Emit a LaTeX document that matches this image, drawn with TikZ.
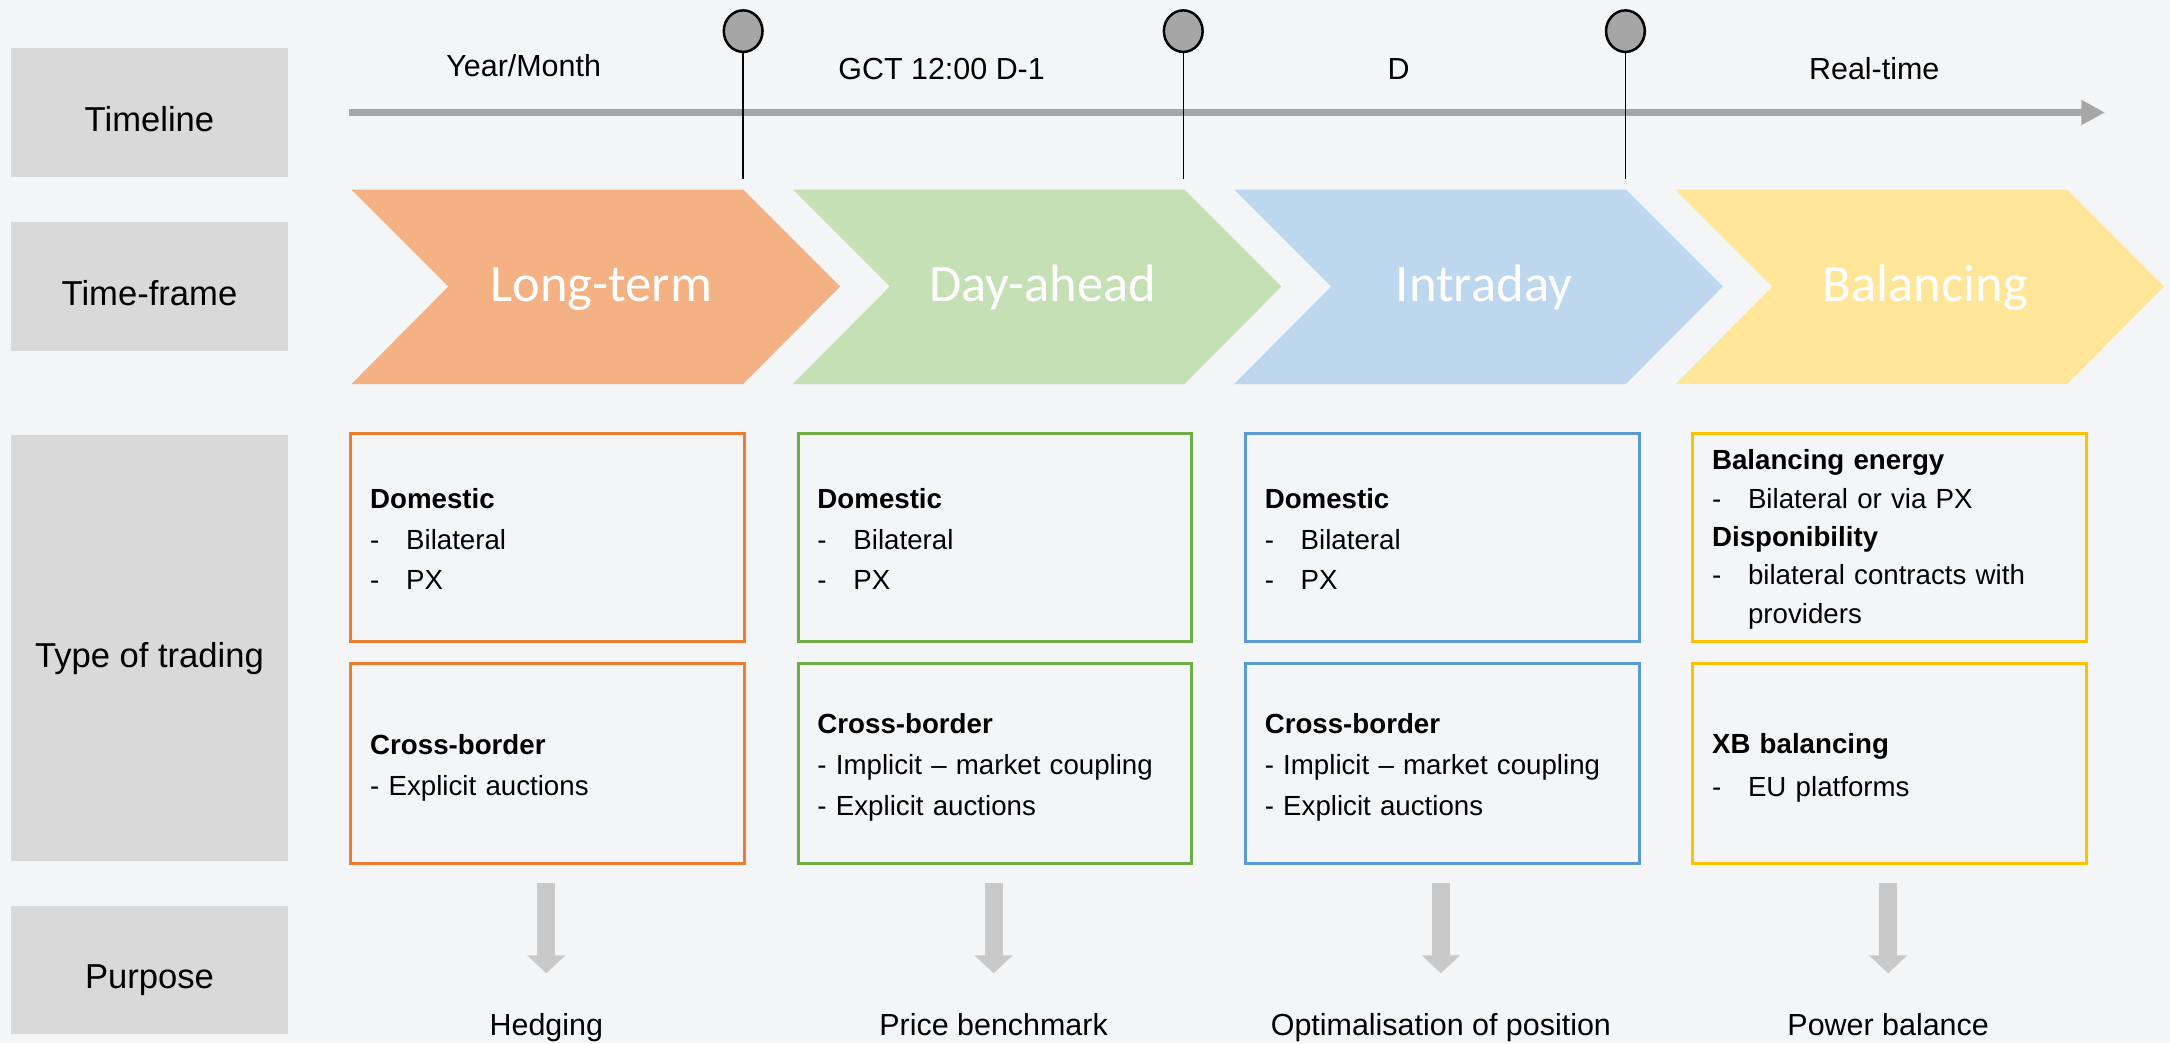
\documentclass[tikz,border=0pt]{standalone}
\usepackage{fontspec}
\setmainfont{Liberation Sans}
\newfontfamily\chevfont{Carlito}
\usetikzlibrary{arrows.meta,shapes.geometric}

\definecolor{bgc}{HTML}{F4F5F7}
\definecolor{lblc}{HTML}{D9D9D9}
\definecolor{tlc}{HTML}{A6A6A6}
\definecolor{cfa}{HTML}{F4B183}
\definecolor{cfb}{HTML}{C5E0B4}
\definecolor{cfc}{HTML}{BDD7EE}
\definecolor{cfd}{HTML}{FFE699}
\definecolor{cba}{HTML}{ED7D31}
\definecolor{cbb}{HTML}{70AD47}
\definecolor{cbc}{HTML}{5B9BD5}
\definecolor{cbd}{HTML}{FFC000}
\definecolor{arrc}{HTML}{C9C9C9}

\newcommand\dashitem[1]{\makebox[26pt][l]{-}#1}

\tikzset{
  lblbox/.style={fill=lblc, draw=none, inner sep=0pt, minimum width=200pt,
    font=\fontsize{25}{30}\selectfont, text=black,
    text height=27.8pt, text depth=0pt},
  tllabel/.style={font=\fontsize{22}{26}\selectfont, anchor=base, inner sep=0pt},
  pinhead/.style={ellipse, draw=black, line width=1.8pt, fill=tlc,
    minimum width=28pt, minimum height=30pt, inner sep=0pt},
  pinline/.style={draw=black, line width=1pt},
  chevtext/.style={font=\chevfont\fontsize{38}{40}\selectfont, text=white,
    anchor=base, inner sep=0pt},
  tradebox/.style={draw=#1, line width=2pt, minimum width=284.5pt,
    inner sep=0pt, anchor=north west},
  boxtext/.style={anchor=base west, inner sep=0pt, text width=265pt,
    align=left, font=\fontsize{20}{29.5}\selectfont},
  purparrow/.style={draw=arrc, line width=13pt,
    -{Triangle[length=13pt,width=27pt]}},
  purptext/.style={font=\fontsize{22}{26}\selectfont, anchor=base, inner sep=0pt},
}

\begin{document}
\begin{tikzpicture}[x=1pt,y=-1pt]
\fill[bgc] (0,0) rectangle (1568,754);
\useasboundingbox (0,0) rectangle (1568,754);

% left labels
\node[lblbox, minimum height=93pt] (ltime) at (108,81.2) {Timeline};
\node[lblbox, minimum height=93pt] (lframe) at (108,206.9) {Time-frame};
\node[lblbox, minimum height=307.7pt] (ltype) at (108,468.2) {Type of trading};
\node[lblbox, minimum height=92.7pt] (lpurp) at (108,700.7) {Purpose};

% timeline
\coordinate (tlstart) at (252.5,81.3);
\coordinate (tlend) at (1521,81.3);
\draw[tlc, line width=5.5pt, -{Triangle[length=17pt,width=17pt]}] (tlstart) -- (tlend);

\node[tllabel] (tya) at (378.4,55.5) {Year/Month};
\node[tllabel] (tyb) at (680.4,57.8) {GCT 12:00 D-1};
\node[tllabel] (tyc) at (1010.6,57.8) {D};
\node[tllabel] (tyd) at (1354.3,57.8) {Real-time};

% pins
\coordinate (pinaf) at (537,129.6);
\coordinate (pinbf) at (855,129.6);
\coordinate (pincf) at (1174.5,129.6);
\node[pinhead] (pina) at (537,22.5) {};
\node[pinhead] (pinb) at (855,22.5) {};
\node[pinhead] (pinc) at (1174.5,22.5) {};
\draw[pinline] (pina.south) -- (pinaf);
\draw[pinline] (pinb.south) -- (pinbf);
\draw[pinline] (pinc.south) -- (pincf);

% chevrons
\fill[cfa] (254,137) -- (537,137) -- (607,207) -- (537,277.5) -- (254,277.5) -- (324,207) -- cycle;
\fill[cfb] (572.9,137) -- (855.9,137) -- (925.9,207) -- (855.9,277.5) -- (572.9,277.5) -- (642.9,207) -- cycle;
\fill[cfc] (891.8,137) -- (1174.8,137) -- (1244.8,207) -- (1174.8,277.5) -- (891.8,277.5) -- (961.8,207) -- cycle;
\fill[cfd] (1210.7,137) -- (1493.7,137) -- (1563.7,207) -- (1493.7,277.5) -- (1210.7,277.5) -- (1280.7,207) -- cycle;
\node[chevtext] (cha) at (434.5,218) {Long-term};
\node[chevtext] (chb) at (753.4,218) {Day-ahead};
\node[chevtext] (chc) at (1072.3,218) {Intraday};
\node[chevtext] (chd) at (1391.2,218) {Balancing};

% trading boxes
\node[tradebox=cba, minimum height=150.7pt] (bat) at (252.5,312) {};
\node[tradebox=cbb, minimum height=150.7pt] (bbt) at (575.7,312) {};
\node[tradebox=cbc, minimum height=150.7pt] (bct) at (898.9,312) {};
\node[tradebox=cbd, minimum height=150.7pt] (bdt) at (1222.1,312) {};
\node[tradebox=cba, minimum height=144.2pt] (bab) at (252.5,478.6) {};
\node[tradebox=cbb, minimum height=144.2pt] (bbb) at (575.7,478.6) {};
\node[tradebox=cbc, minimum height=144.2pt] (bcb) at (898.9,478.6) {};
\node[tradebox=cbd, minimum height=144.2pt] (bdb) at (1222.1,478.6) {};

\node[boxtext] (tat) at (267.3,367.3) {\textbf{Domestic}\\\dashitem{Bilateral}\\\dashitem{PX}};
\node[boxtext] (tbt) at (590.5,367.3) {\textbf{Domestic}\\\dashitem{Bilateral}\\\dashitem{PX}};
\node[boxtext] (tct) at (913.7,367.3) {\textbf{Domestic}\\\dashitem{Bilateral}\\\dashitem{PX}};
\node[boxtext, font=\fontsize{20}{27.7}\selectfont] (tdt) at (1236.9,339.6)
  {\textbf{Balancing energy}\\\dashitem{Bilateral or via PX}\\\textbf{Disponibility}\\\dashitem{bilateral contracts with}\\\hspace*{26pt}providers};
\node[boxtext] (tab) at (267.3,545) {\textbf{Cross-border}\\- Explicit auctions};
\node[boxtext] (tbb) at (590.5,530) {\textbf{Cross-border}\\- Implicit – market coupling\\- Explicit auctions};
\node[boxtext] (tcb) at (913.7,530) {\textbf{Cross-border}\\- Implicit – market coupling\\- Explicit auctions};
\node[boxtext, font=\fontsize{20}{30.8}\selectfont] (tdb) at (1236.9,544.4) {\textbf{XB balancing}\\\dashitem{EU platforms}};

% purpose arrows
\coordinate (paa) at (394.75,638); \coordinate (pab) at (394.75,703.3);
\coordinate (pba) at (717.95,638); \coordinate (pbb) at (717.95,703.3);
\coordinate (pca) at (1041.15,638); \coordinate (pcb) at (1041.15,703.3);
\coordinate (pda) at (1364.35,638); \coordinate (pdb) at (1364.35,703.3);
\draw[purparrow] (paa) -- (pab);
\draw[purparrow] (pba) -- (pbb);
\draw[purparrow] (pca) -- (pcb);
\draw[purparrow] (pda) -- (pdb);

\node[purptext] (pua) at (394.75,748) {Hedging};
\node[purptext] (pub) at (717.95,748) {Price benchmark};
\node[purptext] (puc) at (1041.15,748) {Optimalisation of position};
\node[purptext] (pud) at (1364.35,748) {Power balance};
\end{tikzpicture}
\end{document}
